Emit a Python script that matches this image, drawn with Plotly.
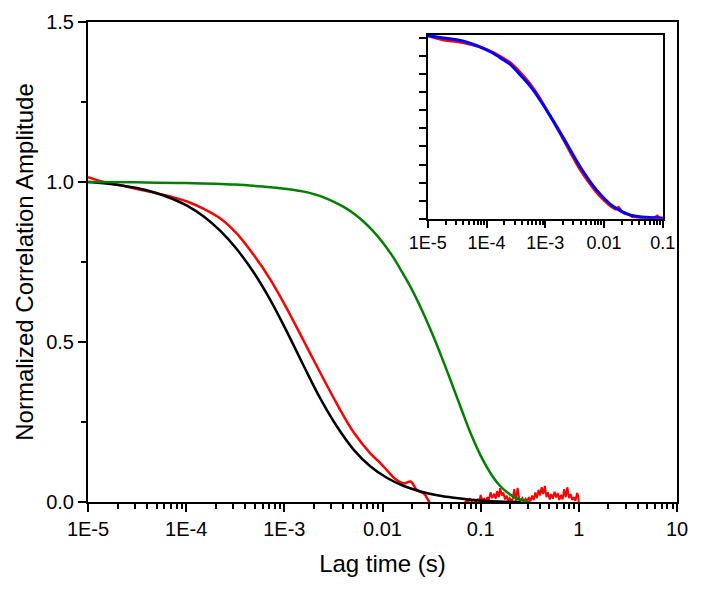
import plotly.graph_objects as go

# ---------------- data ----------------
black_x = [1.0e-5, 1.44e-5, 2.13e-5, 3.15e-5, 4.66e-5, 6.89e-5, 1.02e-4, 1.51e-4, 2.23e-4,
           3.30e-4, 4.88e-4, 7.21e-4, 1.067e-3, 1.578e-3, 2.33e-3, 3.45e-3, 5.10e-3, 7.55e-3,
           1.117e-2, 1.65e-2, 2.44e-2, 3.61e-2, 5.35e-2, 7.91e-2, 0.117, 0.173, 0.256]
black_y = [1.0, 0.996, 0.990, 0.981, 0.968, 0.950, 0.926, 0.892, 0.847,
           0.789, 0.717, 0.631, 0.531, 0.425, 0.323, 0.235, 0.163, 0.111,
           0.075, 0.050, 0.033, 0.021, 0.013, 0.007, 0.003, 0.001, 0.0]

red_x = [1.0e-5, 1.44e-5, 2.13e-5, 3.15e-5, 4.66e-5, 6.89e-5, 1.02e-4, 1.51e-4, 2.23e-4,
         3.30e-4, 4.88e-4, 7.21e-4, 1.067e-3, 1.578e-3, 2.33e-3, 3.45e-3, 5.10e-3, 7.55e-3,
         9.55e-3, 1.117e-2, 1.35e-2, 1.65e-2, 1.93e-2, 2.24e-2, 2.64e-2, 2.97e-2, 3.16e-2]
red_y = [1.015, 1.0, 0.99, 0.978, 0.967, 0.955, 0.939, 0.916, 0.886,
         0.838, 0.772, 0.695, 0.603, 0.503, 0.403, 0.305, 0.217, 0.151,
         0.121, 0.098, 0.072, 0.058, 0.064, 0.0375, 0.026, 0.002, -0.01]

noise_x = [0.031, 0.04, 0.05, 0.06, 0.068, 0.072, 0.075, 0.078, 0.081, 0.085, 0.089, 0.093,
           0.097, 0.1, 0.104, 0.108, 0.112, 0.117, 0.121, 0.126, 0.131, 0.137, 0.142, 0.147,
           0.153, 0.158, 0.164, 0.17, 0.177, 0.184, 0.19, 0.197, 0.205, 0.212, 0.22, 0.229,
           0.238, 0.247, 0.256, 0.266, 0.276, 0.287, 0.298, 0.31, 0.322, 0.334, 0.347, 0.36,
           0.374, 0.388, 0.403, 0.418, 0.434, 0.451, 0.468, 0.486, 0.505, 0.524, 0.544, 0.565,
           0.587, 0.61, 0.633, 0.657, 0.683, 0.709, 0.736, 0.765, 0.794, 0.825, 0.857, 0.89,
           0.924, 0.96, 0.985, 1.0]
noise_y = [-0.01, -0.01, -0.01, -0.01, -0.005, 0.006, 0.0, 0.009, 0.002, 0.007, -0.003, 0.01,
           0.002, 0.022, 0.004, 0.012, 0.0, 0.015, 0.005, 0.03, 0.012, 0.026, 0.01, 0.034,
           0.015, 0.043, 0.02, 0.03, 0.008, 0.02, 0.005, 0.012, 0.003, 0.01, 0.04, 0.004,
           0.044, 0.01, 0.006, 0.012, 0.002, 0.01, 0.003, 0.015, 0.002, 0.02, 0.006, 0.03,
           0.012, 0.038, 0.02, 0.046, 0.025, 0.05, 0.015, 0.03, 0.008, 0.025, 0.01, 0.032,
           0.014, 0.028, 0.006, 0.022, 0.008, 0.04, 0.015, 0.046, 0.012, 0.025, 0.006, 0.015,
           0.004, 0.028, 0.02, -0.01]

green_x = [1e-5, 3.16e-5, 1e-4, 3.16e-4, 6.31e-4, 1e-3, 1.26e-3, 1.58e-3, 2.0e-3, 2.51e-3,
           3.16e-3, 3.98e-3, 5.01e-3, 6.31e-3, 7.94e-3, 1e-2, 1.26e-2, 1.58e-2, 2.0e-2, 2.51e-2,
           3.16e-2, 3.98e-2, 5.01e-2, 6.31e-2, 7.94e-2, 0.1, 0.126, 0.158, 0.2, 0.251, 0.316]
green_y = [1.0, 0.999, 0.997, 0.992, 0.985, 0.979, 0.975, 0.970, 0.962, 0.952,
           0.939, 0.923, 0.903, 0.878, 0.848, 0.812, 0.769, 0.719, 0.663, 0.601,
           0.531, 0.455, 0.375, 0.293, 0.213, 0.145, 0.09, 0.05, 0.023, 0.007, 0.0]

inset_blue_x = [1e-5, 2e-5, 3.6e-5, 5.2e-5, 8e-5, 1.3e-4, 1.9e-4, 2.5e-4, 4e-4, 5.4e-4,
                8e-4, 1.2e-3, 2e-3, 3.9e-3, 7.4e-3, 1.43e-2, 2.75e-2, 5.2e-2, 0.1]
inset_blue_y = [1.012, 0.998, 0.985, 0.97, 0.948, 0.915, 0.88, 0.855, 0.785, 0.737,
                0.66, 0.57, 0.45, 0.288, 0.16, 0.068, 0.022, 0.008, 0.003]

inset_red_x = [1e-5, 1.5e-5, 2e-5, 3e-5, 5e-5, 8e-5, 1.3e-4, 1.9e-4, 2.5e-4, 4e-4, 5.4e-4,
               8e-4, 1.2e-3, 2e-3, 3.9e-3, 5.5e-3, 7.4e-3, 1e-2, 1.3e-2, 1.6e-2, 1.75e-2,
               1.9e-2, 2.2e-2, 2.7e-2, 3e-2, 4e-2, 6e-2, 7.5e-2, 8e-2, 8.5e-2, 0.1]
inset_red_y = [1.012, 0.995, 0.985, 0.978, 0.965, 0.948, 0.92, 0.89, 0.865, 0.80, 0.75,
               0.67, 0.57, 0.44, 0.27, 0.20, 0.145, 0.10, 0.068, 0.052, 0.065,
               0.05, 0.03, 0.022, 0.012, 0.006, 0.003, 0.01, 0.017, 0.008, 0.005]

main_xticks = [1e-5, 1e-4, 1e-3, 1e-2, 1e-1, 1, 10]
main_xtext = ["1E-5", "1E-4", "1E-3", "0.01", "0.1", "1", "10"]
inset_xticks = [1e-5, 1e-4, 1e-3, 1e-2, 1e-1]
inset_xtext = ["1E-5", "1E-4", "1E-3", "0.01", "0.1"]

# ---------------- figure ----------------
FONT = "Liberation Sans, Arial, sans-serif"
fig = go.Figure()

fig.add_trace(go.Scatter(x=red_x, y=red_y, mode="lines", line=dict(color="#ff0000", width=2.5, shape="spline", smoothing=1.0),
                         xaxis="x", yaxis="y", showlegend=False))
fig.add_trace(go.Scatter(x=noise_x, y=noise_y, mode="lines", line=dict(color="#ff0000", width=2),
                         xaxis="x", yaxis="y", showlegend=False))
fig.add_trace(go.Scatter(x=black_x, y=black_y, mode="lines", line=dict(color="#000000", width=2.5, shape="spline", smoothing=1.0),
                         xaxis="x", yaxis="y", showlegend=False))
fig.add_trace(go.Scatter(x=green_x, y=green_y, mode="lines", line=dict(color="#008000", width=2.5, shape="spline", smoothing=1.0),
                         xaxis="x", yaxis="y", showlegend=False))

fig.add_trace(go.Scatter(x=inset_red_x, y=inset_red_y, mode="lines", line=dict(color="#ff0000", width=2.5, shape="spline", smoothing=0.6),
                         xaxis="x2", yaxis="y2", showlegend=False))
fig.add_trace(go.Scatter(x=inset_blue_x, y=inset_blue_y, mode="lines", line=dict(color="#0000ff", width=3, shape="spline", smoothing=0.8),
                         xaxis="x2", yaxis="y2", showlegend=False))

minor_main = [m * 10.0 ** e for e in range(-5, 1) for m in range(2, 10)]
minor_inset = [m * 10.0 ** e for e in range(-5, -1) for m in range(2, 10)]

axis_common = dict(showgrid=False, zeroline=False, showline=True, linecolor="black", linewidth=2,
                   mirror=True, ticks="outside", tickcolor="black", tickwidth=1.5)

fig.update_layout(
    width=701, height=590,
    margin=dict(l=88, r=24, t=22, b=88),
    paper_bgcolor="white", plot_bgcolor="white",
    font=dict(family=FONT, color="black", size=20),
    xaxis=dict(type="log", range=[-5, 1], tickmode="array", tickvals=main_xticks, ticktext=main_xtext,
               ticklen=8, tickfont=dict(size=20),
               minor=dict(tickmode="array", tickvals=minor_main, ticks="outside", ticklen=5,
                          tickcolor="black", tickwidth=1.5, showgrid=False),
               title=dict(text="Lag time (s)", font=dict(size=24), standoff=16),
               **axis_common),
    yaxis=dict(range=[0, 1.5], tickmode="linear", tick0=0, dtick=0.5, tickformat=".1f", ticklen=8,
               tickfont=dict(size=20),
               minor=dict(tickmode="linear", tick0=0, dtick=0.25, ticks="outside", ticklen=5,
                          tickcolor="black", tickwidth=1.5, showgrid=False),
               title=dict(text="Normalized Correlation Amplitude", font=dict(size=24), standoff=6),
               **axis_common),
    xaxis2=dict(type="log", range=[-5, -1], domain=[0.577, 0.976], anchor="y2",
                tickmode="array", tickvals=inset_xticks, ticktext=inset_xtext, ticklen=7,
                tickfont=dict(size=18),
                minor=dict(tickmode="array", tickvals=minor_inset, ticks="outside", ticklen=4,
                           tickcolor="black", tickwidth=1.5, showgrid=False),
                **axis_common),
    yaxis2=dict(range=[0, 1.016], domain=[0.590, 0.973], anchor="x2",
                tickmode="linear", tick0=0, dtick=0.1, ticklen=7, showticklabels=False,
                **axis_common),
)

fig.write_html("out.html", config={"displayModeBar": False},
               post_script="document.body.style.margin='0';")
